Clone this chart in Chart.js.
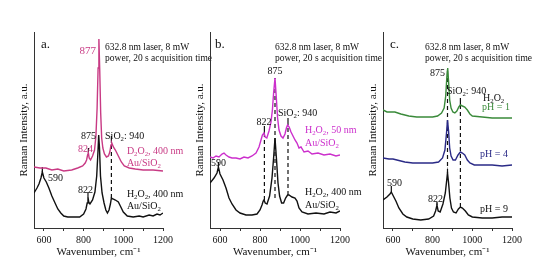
<!DOCTYPE html>
<html>
<head>
<meta charset="utf-8">
<script src="https://cdn.jsdelivr.net/npm/chart.js@4.4.0/dist/chart.umd.min.js"></script>
<style>
  html, body { margin: 0; padding: 0; background: #fff; }
  #wrap { position: relative; width: 539px; height: 274px; }
  #wrap canvas { position: absolute; left: 0; top: 0; }
</style>
</head>
<body>
<div id="wrap">
  <canvas id="panelA" width="539" height="274"></canvas>
  <canvas id="panelB" width="539" height="274"></canvas>
  <canvas id="panelC" width="539" height="274"></canvas>
</div>
<script>
// spectra: wavenumber (cm-1) and intensity (a.u., offset per trace)
const aBlackX = [550, 565, 575, 585, 592, 600, 612, 625, 640, 656, 670, 685, 700, 720, 750, 780, 800, 812, 818, 822, 826, 832, 845, 857, 866, 872, 876, 880, 885, 893, 903, 912, 920, 928, 935, 940, 948, 960, 975, 985, 1000, 1020, 1050, 1080, 1100, 1130, 1150, 1170, 1185, 1200];
const aBlackY = [35, 40, 44, 50, 56, 50, 46, 40, 32, 25, 19, 15, 12, 11, 11, 11, 14, 19, 25, 31, 26, 24, 28, 36, 52, 75, 93, 80, 52, 35, 25, 18, 15, 18, 24, 30, 29, 28, 26, 22, 16, 12, 11, 12, 11, 13, 12, 14, 13, 15];

const aPinkX = [550, 580, 610, 640, 670, 700, 740, 770, 795, 808, 815, 820, 824, 828, 835, 845, 855, 862, 868, 873, 877, 881, 886, 891, 897, 905, 915, 925, 932, 938, 942, 950, 960, 975, 990, 1005, 1030, 1060, 1100, 1150, 1200];
const aPinkY = [61, 60, 60, 58, 59, 57, 58, 60, 62, 65, 68, 73, 75, 70, 68, 72, 78, 92, 120, 160, 189, 160, 115, 90, 80, 74, 71, 72, 76, 83, 85, 81, 78, 72, 66, 62, 60, 59, 58, 58, 57];

const bBlackX = [550, 570, 585, 592, 600, 615, 630, 645, 660, 680, 700, 730, 760, 785, 800, 810, 816, 820, 826, 835, 848, 860, 868, 875, 882, 890, 898, 908, 918, 928, 938, 945, 960, 975, 985, 995, 1010, 1040, 1080, 1120, 1150, 1180, 1200];
const bBlackY = [45, 50, 55, 61, 54, 48, 40, 30, 24, 18, 15, 13, 13, 14, 18, 23, 27, 28, 25, 24, 32, 50, 70, 90, 70, 45, 32, 25, 25, 30, 33, 33, 31, 30, 27, 20, 16, 14, 15, 14, 16, 15, 17];

const bPinkX = [550, 565, 580, 595, 610, 620, 630, 645, 660, 680, 700, 720, 740, 760, 780, 795, 805, 812, 820, 826, 834, 845, 855, 862, 868, 875, 881, 888, 895, 905, 915, 925, 932, 938, 946, 955, 965, 975, 985, 995, 1005, 1020, 1040, 1060, 1090, 1120, 1150, 1180, 1200];
const bPinkY = [71, 70, 72, 71, 74, 75, 73, 71, 70, 70, 69, 71, 70, 72, 75, 81, 88, 93, 95, 91, 90, 97, 106, 118, 135, 150, 132, 110, 98, 92, 90, 94, 100, 103, 101, 96, 92, 88, 85, 80, 81, 76, 77, 74, 75, 73, 74, 72, 73];

const cGreenX = [550, 570, 590, 610, 640, 680, 720, 760, 800, 825, 845, 858, 866, 872, 876, 880, 886, 893, 902, 912, 922, 932, 940, 950, 962, 975, 988, 1000, 1050, 1100, 1150, 1200];
const cGreenY = [118, 116, 116, 116, 114, 112, 111, 111, 111, 112, 115, 120, 132, 152, 160, 148, 128, 120, 116, 115, 117, 121, 123, 122, 121, 118, 114, 112, 111, 110, 110, 110];

const cBlueX = [550, 580, 600, 620, 660, 700, 750, 800, 830, 850, 862, 870, 875, 880, 886, 893, 903, 915, 928, 940, 950, 962, 975, 988, 1010, 1050, 1100, 1150, 1200];
const cBlueY = [70, 69, 69, 68, 66, 65, 65, 65, 66, 70, 78, 95, 108, 98, 80, 72, 68, 68, 73, 76, 75, 73, 68, 65, 63, 63, 63, 62, 63];

const cBlackX = [550, 570, 585, 592, 602, 615, 630, 650, 670, 700, 740, 780, 805, 815, 822, 828, 838, 852, 864, 870, 875, 880, 887, 895, 905, 918, 930, 940, 950, 965, 980, 1000, 1050, 1100, 1150, 1200];
const cBlackY = [28, 31, 34, 36, 32, 27, 20, 14, 11, 9, 8, 9, 12, 17, 23, 17, 16, 24, 35, 46, 55, 46, 30, 20, 16, 15, 19, 21, 20, 17, 13, 11, 10, 10, 11, 11];

const xTicks = [600, 700, 800, 900, 1000, 1100, 1200];

const FONT = '"Liberation Serif", "Times New Roman", serif';
const PINK = '#c83a84';
const MAGENTA = '#cc2fcc';
const GREEN = '#3a8a3a';
const BLUE = '#2a2a86';
const INK = '#111';

function pts(xs, ys) { return xs.map((x, i) => ({ x: x, y: ys[i] })); }

function spectrum(xs, ys, color) {
  return { data: pts(xs, ys), borderColor: color, borderWidth: 1.4, pointRadius: 0, tension: 0 };
}
// vertical guide between two intensities at one wavenumber
function guide(x, y0, y1, dashed) {
  return { data: [{ x: x, y: y0 }, { x: x, y: y1 }], borderColor: INK, borderWidth: 1.2,
    borderDash: dashed ? [4, 3] : [], pointRadius: 0 };
}

// draws text with "_x" subscripts
function richText(ctx, text, x, y, size, align, color) {
  const segs = [];
  for (let i = 0; i < text.length; i++) {
    if (text[i] === '_') { segs.push({ t: text[i + 1], sub: true }); i++; }
    else if (segs.length && !segs[segs.length - 1].sub) segs[segs.length - 1].t += text[i];
    else segs.push({ t: text[i], sub: false });
  }
  let w = 0;
  segs.forEach(s => {
    ctx.font = (s.sub ? size * 0.68 : size) + 'px ' + FONT;
    s.w = ctx.measureText(s.t).width;
    w += s.w;
  });
  let cx = align === 'right' ? x - w : align === 'center' ? x - w / 2 : x;
  ctx.fillStyle = color;
  ctx.textAlign = 'left';
  ctx.textBaseline = 'middle';
  segs.forEach(s => {
    ctx.font = (s.sub ? size * 0.68 : size) + 'px ' + FONT;
    ctx.fillText(s.t, cx, s.sub ? y + size * 0.3 : y);
    cx += s.w;
  });
}

const panelText = {
  id: 'panelText',
  afterDraw(chart, args, opts) {
    const ctx = chart.ctx;
    const xs = chart.scales.x, ys = chart.scales.y;
    ctx.save();
    (opts.labels || []).forEach(l => {
      richText(ctx, l.t, xs.getPixelForValue(l.x), ys.getPixelForValue(l.y), l.s || 10, l.a || 'left', l.c || INK);
    });
    ctx.restore();
  }
};

function makePanel(id, left, right, datasets, labels) {
  new Chart(document.getElementById(id), {
    type: 'line',
    data: { datasets: datasets },
    options: {
      responsive: false,
      animation: false,
      devicePixelRatio: 1,
      layout: { padding: { left: left - 16, right: 539 - right, top: 32, bottom: 10 } },
      plugins: { legend: { display: false }, tooltip: { enabled: false }, panelText: { labels: labels } },
      scales: {
        x: {
          type: 'linear', min: 550, max: 1200,
          afterBuildTicks: s => { s.ticks = xTicks.map(v => ({ value: v })); },
          ticks: { callback: v => (v % 200 === 0 ? String(v) : ''), font: { family: FONT, size: 10 }, color: INK,
            padding: 3, maxRotation: 0, autoSkip: false },
          grid: { display: true, drawOnChartArea: false, drawTicks: true, tickLength: 3, color: '#333' },
          border: { display: true, color: '#333', width: 1 },
          title: { display: true, text: 'Wavenumber, cm\u207B\u00B9', color: INK, font: { family: FONT, size: 11 },
            padding: { top: 0, bottom: 5 } },
          afterFit: s => { s.height = 36; }
        },
        y: {
          min: 0, max: 196,
          ticks: { display: false },
          grid: { display: false },
          border: { display: true, color: '#333', width: 1 },
          title: { display: true, text: 'Raman Intensity, a.u.', color: INK, font: { family: FONT, size: 11 },
            padding: { top: 0, bottom: 0 } },
          afterFit: s => { s.width = 16; }
        }
      }
    },
    plugins: [panelText]
  });
}

makePanel('panelA', 34, 163, [
  spectrum(aBlackX, aBlackY, INK),
  spectrum(aPinkX, aPinkY, PINK),
  guide(940, 30, 83, true),
  guide(592, 56, 61, false),
  guide(822, 31, 36, false),
  guide(940, 85, 92, false),
  guide(824, 75, 80, false)
], [
  { t: 'a.', x: 585, y: 183, s: 13 },
  { t: '877', x: 862, y: 177, a: 'right', c: PINK, s: 11 },
  { t: '632.8 nm laser, 8 mW', x: 908, y: 181, s: 9.5 },
  { t: 'power, 20 s acquisition time', x: 908, y: 170, s: 9.5 },
  { t: '875', x: 863, y: 92, a: 'right' },
  { t: 'SiO_2: 940', x: 908, y: 92 },
  { t: '824', x: 847, y: 79, a: 'right', c: PINK },
  { t: 'D_2O_2, 400 nm', x: 1018, y: 77, c: PINK },
  { t: 'Au/SiO_2', x: 1018, y: 65, c: PINK },
  { t: '590', x: 620, y: 50 },
  { t: '822', x: 847, y: 38, a: 'right' },
  { t: 'H_2O_2, 400 nm', x: 1018, y: 34 },
  { t: 'Au/SiO_2', x: 1018, y: 22 }
]);

makePanel('panelB', 210, 340, [
  spectrum(bBlackX, bBlackY, INK),
  spectrum(bPinkX, bPinkY, MAGENTA),
  guide(822, 28, 95, true),
  guide(875, 30, 150, true),
  guide(940, 33, 103, true),
  guide(592, 61, 66, false),
  guide(822, 95, 102, false),
  guide(940, 103, 110, false)
], [
  { t: 'b.', x: 575, y: 183, s: 13 },
  { t: '632.8 nm laser, 8 mW', x: 875, y: 181, s: 9.5 },
  { t: 'power, 20 s acquisition time', x: 875, y: 170, s: 9.5 },
  { t: '875', x: 875, y: 157, a: 'center' },
  { t: '822', x: 820, y: 106, a: 'center' },
  { t: 'SiO_2: 940', x: 890, y: 115 },
  { t: 'H_2O_2, 50 nm', x: 1025, y: 98, c: MAGENTA },
  { t: 'Au/SiO_2', x: 1025, y: 85, c: MAGENTA },
  { t: '590', x: 555, y: 65 },
  { t: 'H_2O_2, 400 nm', x: 1025, y: 36 },
  { t: 'Au/SiO_2', x: 1025, y: 23 }
]);

makePanel('panelC', 383, 512, [
  spectrum(cGreenX, cGreenY, GREEN),
  spectrum(cBlueX, cBlueY, BLUE),
  spectrum(cBlackX, cBlackY, INK),
  guide(875, 55, 160, true),
  guide(940, 21, 123, true),
  guide(592, 36, 42, false),
  guide(822, 23, 26, false),
  guide(940, 123, 130, false)
], [
  { t: 'c.', x: 585, y: 183, s: 13 },
  { t: '632.8 nm laser, 8 mW', x: 762, y: 181, s: 9.5 },
  { t: 'power, 20 s acquisition time', x: 762, y: 170, s: 9.5 },
  { t: '875', x: 862, y: 155, a: 'right' },
  { t: 'SiO_2: 940', x: 872, y: 137 },
  { t: 'H_2O_2', x: 1054, y: 130 },
  { t: 'pH = 1', x: 1049, y: 121, c: GREEN },
  { t: 'pH = 4', x: 1039, y: 74, c: BLUE },
  { t: '590', x: 570, y: 45 },
  { t: '822', x: 852, y: 29, a: 'right' },
  { t: 'pH = 9', x: 1039, y: 19 }
]);
</script>
</body>
</html>
